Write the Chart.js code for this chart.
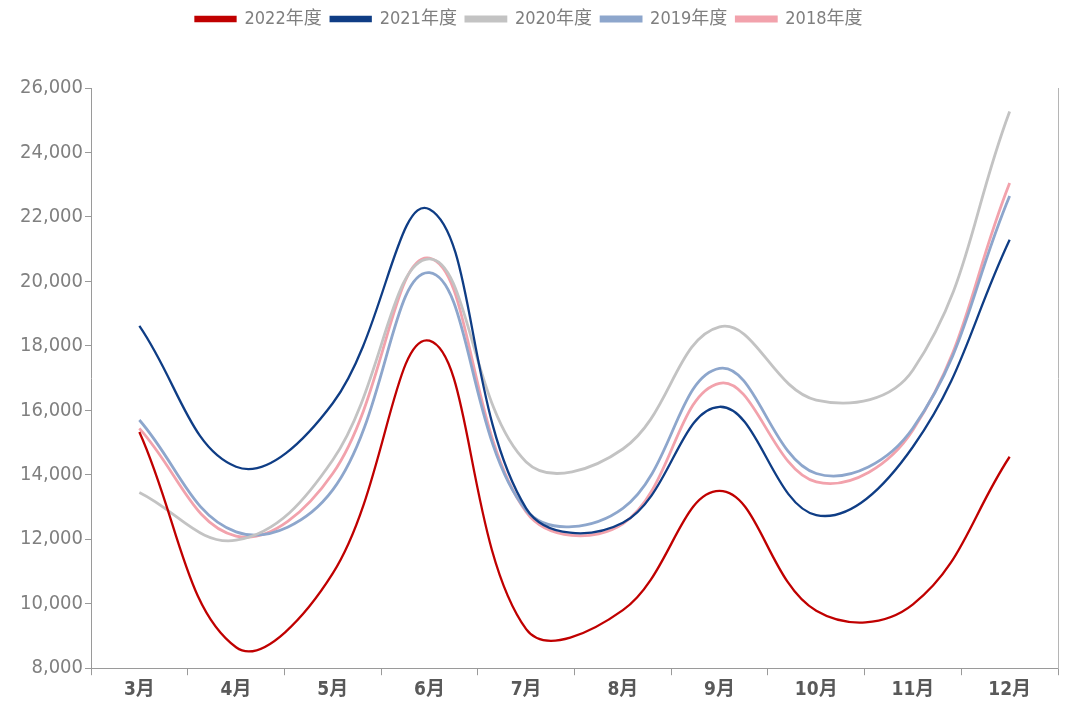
<!DOCTYPE html>
<html>
<head>
<meta charset="utf-8">
<script src="https://cdn.jsdelivr.net/npm/chart.js@4/dist/chart.umd.min.js"></script>
<style>
  html, body { margin: 0; padding: 0; background: #fff; }
  #wrap { width: 1084px; height: 708px; }
</style>
</head>
<body>
<div id="wrap"><canvas id="chart" width="1084" height="708"></canvas></div>
<script>
// categories (months)
const months = ['3月', '4月', '5月', '6月', '7月', '8月', '9月', '10月', '11月', '12月'];

// series values
const y2022 = [15330, 8650, 10940, 18160, 9210, 9800, 13500, 9780, 9980, 14560];
const y2021 = [18620, 14250, 16220, 22240, 12960, 12510, 16110, 12750, 14870, 21290];
const y2020 = [13450, 11970, 14460, 20700, 14400, 14800, 18590, 16320, 17250, 25270];
const y2019 = [15700, 12230, 13530, 20270, 12900, 12960, 17300, 14040, 15450, 22650];
const y2018 = [15440, 12100, 14040, 20720, 12850, 12480, 16840, 13780, 15390, 23050];

// y axis range / ticks
const yMin = 8000;
const yMax = 26000;
const yStep = 2000;

const FONT = "'Liberation Sans Narrow', 'DejaVu Sans Condensed', 'Noto Sans CJK SC', sans-serif";

function series(label, data, color, width) {
  return {
    label: label,
    data: data,
    borderColor: color,
    backgroundColor: color,
    borderWidth: width,
    pointRadius: 0,
    tension: 0.4,
    fill: false
  };
}

// push the plot area down below the legend
const legendGap = {
  id: 'legendGap',
  beforeInit(chart) {
    const fit = chart.legend.fit;
    chart.legend.fit = function () {
      fit.call(this);
      this.height += 50;
    };
  }
};

const ctx = document.getElementById('chart');
new Chart(ctx, {
  type: 'line',
  data: {
    labels: months,
    datasets: [
      series('2022年度', y2022, '#C00000', 2.3),
      series('2021年度', y2021, '#0F3D85', 2.3),
      series('2020年度', y2020, '#C3C3C3', 2.8),
      series('2019年度', y2019, '#8DA6CC', 2.8),
      series('2018年度', y2018, '#F2A2AC', 2.8)
    ]
  },
  options: {
    responsive: false,
    animation: false,
    layout: { padding: { left: 0, right: 26, top: 1, bottom: 4 } },
    plugins: {
      legend: {
        position: 'top',
        labels: {
          boxWidth: 40,
          boxHeight: 4,
          padding: 9,
          color: '#7f7f7f',
          font: { family: FONT, size: 18 }
        }
      },
      tooltip: { enabled: false }
    },
    scales: {
      x: {
        offset: true,
        grid: { display: true, drawOnChartArea: false, offset: true, tickLength: 7, color: '#9a9a9a' },
        border: { color: '#9a9a9a' },
        ticks: { color: '#595959', padding: 3, font: { family: FONT, size: 19, weight: 'bold' } }
      },
      y: {
        min: yMin,
        max: yMax,
        grid: { display: true, drawOnChartArea: false, tickLength: 6, color: '#9a9a9a' },
        border: { color: '#9a9a9a' },
        ticks: {
          stepSize: yStep,
          color: '#808080',
          padding: 2,
          font: { family: FONT, size: 20 },
          callback: v => v.toLocaleString('en-US')
        },
        afterFit(scale) { scale.width = 91; }
      },
      y1: {
        position: 'right',
        min: yMin,
        max: yMax,
        grid: { display: false },
        border: { color: '#b5b5b5' },
        ticks: { display: false },
        afterFit(scale) { scale.width = 0; }
      }
    }
  },
  plugins: [legendGap]
});
</script>
</body>
</html>
